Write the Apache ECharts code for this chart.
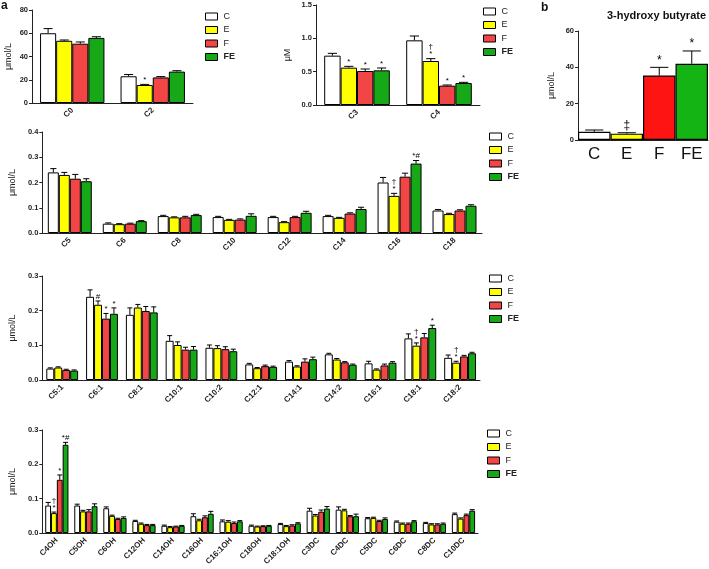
<!DOCTYPE html>
<html>
<head>
<meta charset="utf-8">
<script src="https://cdn.jsdelivr.net/npm/echarts@6/dist/echarts.min.js"></script>
<style>
  html, body { margin: 0; padding: 0; background: #fff; }
  #chart { width: 709px; height: 569px; }
</style>
</head>
<body>
<div id="chart"></div>
<script>
const groups = ['C', 'E', 'F', 'FE'];
const colorsA = ['#ffffff', '#ffff00', '#f24545', '#16a816'];
const colorsB = ['#ffffff', '#ffff00', '#ff1414', '#14b414'];

// panel a, row 1 left
const catsR1a = ['C0', 'C2'];
const meansR1a = [[60, 23], [53.5, 15.5], [51, 22], [56, 27]];
const errsR1a = [[4, 1.5], [0.7, 0.5], [1.5, 0.7], [1, 0.8]];
const marksR1a = [[1, 1, '*']];

// panel a, row 1 right
const catsR1b = ['C3', 'C4'];
const meansR1b = [[0.74, 0.97], [0.56, 0.66], [0.51, 0.29], [0.52, 0.33]];
const errsR1b = [[0.035, 0.065], [0.02, 0.035], [0.03, 0.01], [0.035, 0.01]];
const marksR1b = [[1, 0, '*'], [2, 0, '*'], [3, 0, '*'], [1, 1, '†\n*'], [2, 1, '*'], [3, 1, '*']];

// panel b
const catsB = ['C', 'E', 'F', 'FE'];
const meansB = [4.5, 3.5, 35.5, 42];
const errsB = [1, 0.5, 4.5, 7];
const marksB = ['', '‡', '*', '*'];

// panel a, row 2
const catsR2 = ['C5', 'C6', 'C8', 'C10', 'C12', 'C14', 'C16', 'C18'];
const meansR2 = [
  [0.24, 0.037, 0.067, 0.063, 0.063, 0.067, 0.2, 0.089],
  [0.23, 0.035, 0.062, 0.052, 0.043, 0.06, 0.147, 0.075],
  [0.215, 0.037, 0.062, 0.053, 0.063, 0.077, 0.223, 0.089],
  [0.205, 0.047, 0.071, 0.068, 0.08, 0.095, 0.275, 0.108]
];
const errsR2 = [
  [0.015, 0.003, 0.003, 0.003, 0.003, 0.003, 0.02, 0.004],
  [0.01, 0.002, 0.002, 0.002, 0.002, 0.002, 0.01, 0.003],
  [0.017, 0.002, 0.004, 0.003, 0.003, 0.003, 0.014, 0.003],
  [0.01, 0.002, 0.003, 0.008, 0.006, 0.007, 0.012, 0.004]
];
const marksR2 = [[1, 6, '†\n*'], [3, 6, '*#']];

// panel a, row 3
const catsR3 = ['C5:1', 'C6:1', 'C8:1', 'C10:1', 'C10:2', 'C12:1', 'C14:1', 'C14:2', 'C16:1', 'C18:1', 'C18:2'];
const meansR3 = [
  [0.033, 0.24, 0.188, 0.113, 0.093, 0.045, 0.053, 0.074, 0.048, 0.12, 0.064],
  [0.036, 0.217, 0.209, 0.101, 0.092, 0.034, 0.039, 0.059, 0.03, 0.099, 0.05],
  [0.029, 0.177, 0.199, 0.0875, 0.089, 0.04, 0.053, 0.051, 0.042, 0.123, 0.068],
  [0.027, 0.191, 0.195, 0.0875, 0.083, 0.038, 0.06, 0.044, 0.05, 0.15, 0.077]
];
const errsR3 = [
  [0.002, 0.02, 0.02, 0.015, 0.008, 0.003, 0.003, 0.003, 0.006, 0.013, 0.008],
  [0.002, 0.011, 0.009, 0.009, 0.007, 0.002, 0.002, 0.003, 0.002, 0.008, 0.004],
  [0.002, 0.015, 0.013, 0.007, 0.007, 0.003, 0.008, 0.002, 0.004, 0.011, 0.003],
  [0.002, 0.017, 0.016, 0.009, 0.006, 0.002, 0.006, 0.002, 0.003, 0.008, 0.003]
];
const marksR3 = [[1, 1, '#'], [2, 1, '*'], [3, 1, '*'], [1, 9, '†\n*'], [3, 9, '*'], [1, 10, '†\n*']];

// panel a, row 4
const catsR4 = ['C4OH', 'C5OH', 'C6OH', 'C12OH', 'C14OH', 'C16OH', 'C16:1OH', 'C18OH', 'C18:1OH', 'C3DC', 'C4DC', 'C5DC', 'C6DC', 'C8DC', 'C10DC'];
const meansR4 = [
  [0.08, 0.08, 0.072, 0.035, 0.021, 0.049, 0.034, 0.021, 0.026, 0.065, 0.068, 0.043, 0.033, 0.029, 0.055],
  [0.058, 0.063, 0.05, 0.027, 0.017, 0.037, 0.033, 0.019, 0.02, 0.051, 0.066, 0.044, 0.027, 0.025, 0.042],
  [0.155, 0.063, 0.041, 0.023, 0.019, 0.046, 0.029, 0.02, 0.022, 0.062, 0.049, 0.035, 0.027, 0.025, 0.052],
  [0.257, 0.078, 0.044, 0.023, 0.021, 0.056, 0.034, 0.021, 0.028, 0.071, 0.049, 0.041, 0.034, 0.027, 0.065]
];
const errsR4 = [
  [0.009, 0.004, 0.004, 0.002, 0.002, 0.007, 0.004, 0.002, 0.002, 0.007, 0.008, 0.002, 0.002, 0.002, 0.003],
  [0.003, 0.003, 0.002, 0.002, 0.002, 0.003, 0.003, 0.001, 0.002, 0.003, 0.003, 0.002, 0.002, 0.002, 0.002],
  [0.014, 0.005, 0.002, 0.002, 0.001, 0.004, 0.003, 0.001, 0.002, 0.005, 0.002, 0.002, 0.002, 0.002, 0.003],
  [0.007, 0.007, 0.003, 0.002, 0.001, 0.007, 0.002, 0.001, 0.002, 0.006, 0.006, 0.003, 0.002, 0.002, 0.003]
];
const marksR4 = [[1, 0, '†\n*'], [2, 0, '*'], [3, 0, '*#']];

const FONT = 'Liberation Sans, Arial, sans-serif';

// error bars (upper only) + significance marks, drawn on the axis scale
const makeErr = (means, errs, marks, nG, inner) => {
  const items = [];
  const markOf = {};
  means.forEach((row, g) => row.forEach((v, i) => items.push([i, v, errs[g][i], g])));
  marks.forEach(([g, i, t]) => { markOf[g + '_' + i] = t; });
  const render = (params, api) => {
    const i = api.value(0), m = api.value(1), e = api.value(2), g = api.value(3);
    const p0 = api.coord([i, m]);
    const p1 = api.coord([i, m + e]);
    const gw = api.size([1, 0])[0] * inner;
    const bw = gw / nG;
    const x = p0[0] - gw / 2 + bw * (g + 0.5);
    const cap = Math.max(2.5, bw * 0.28);
    const kids = [
      { type: 'line', shape: { x1: x, y1: p0[1], x2: x, y2: p1[1] }, style: { stroke: '#000', lineWidth: 1 } },
      { type: 'line', shape: { x1: x - cap, y1: p1[1], x2: x + cap, y2: p1[1] }, style: { stroke: '#000', lineWidth: 1 } }
    ];
    const t = markOf[g + '_' + i];
    if (t) {
      kids.push({
        type: 'text',
        x: x, y: p1[1] - 1,
        style: { text: t, align: 'center', verticalAlign: 'bottom', fontSize: nG === 1 ? 12 : 8, lineHeight: nG === 1 ? 12 : 7, fontFamily: FONT, fill: '#000' }
      });
    }
    return { type: 'group', children: kids };
  };
  return { items, render };
};

const panels = [
  { cats: catsR1a, means: meansR1a, errs: errsR1a, marks: marksR1a, grid: { left: 32, top: 10, width: 161, height: 93 }, max: 80, interval: 20, dec: 0, yName: 'μmol/L', nameGap: 19, legend: { left: 205, top: 12 } },
  { cats: catsR1b, means: meansR1b, errs: errsR1b, marks: marksR1b, grid: { left: 316, top: 5, width: 164, height: 100 }, max: 1.5, interval: 0.5, dec: 1, yName: 'μM', nameGap: 24, legend: { left: 483, top: 7 } },
  { cats: catsR2, means: meansR2, errs: errsR2, marks: marksR2, grid: { left: 32, top: 132, width: 450, height: 101 }, max: 0.4, interval: 0.1, dec: 1, yName: 'μmol/L', nameGap: 19, legend: { left: 489, top: 132 } },
  { cats: catsR3, means: meansR3, errs: errsR3, marks: marksR3, grid: { left: 32, top: 276, width: 448, height: 104 }, max: 0.3, interval: 0.1, dec: 1, yName: 'μmol/L', nameGap: 19, legend: { left: 489, top: 274 } },
  { cats: catsR4, means: meansR4, errs: errsR4, marks: marksR4, grid: { left: 32, top: 430, width: 446, height: 103 }, max: 0.3, interval: 0.1, dec: 1, yName: 'μmol/L', nameGap: 19, legend: { left: 487, top: 429 } }
];

const grid = [], xAxis = [], yAxis = [], series = [], legend = [];

const yAxisBase = (idx, max, interval, dec, name, gap) => ({
  type: 'value', gridIndex: idx, min: 0, max: max, interval: interval,
  name: name, nameLocation: 'middle', nameGap: gap, nameRotate: 90,
  nameTextStyle: { fontSize: 9, fontFamily: FONT, color: '#222' },
  axisLine: { show: true, lineStyle: { color: '#222', width: 1 } },
  axisTick: { show: true, length: 3, lineStyle: { color: '#222' } },
  axisLabel: { fontSize: 7.5, fontWeight: 'bold', fontFamily: FONT, color: '#222', margin: 4, formatter: (v) => v.toFixed(dec) },
  splitLine: { show: false }
});

panels.forEach((p, idx) => {
  grid.push(Object.assign({ containLabel: false }, p.grid));
  xAxis.push({
    type: 'category', gridIndex: idx, data: p.cats,
    axisLine: { lineStyle: { color: '#222', width: 1 } },
    axisTick: { alignWithLabel: true, length: 3, lineStyle: { color: '#222' } },
    axisLabel: { rotate: 45, fontSize: 8, fontWeight: 'bold', fontFamily: FONT, color: '#222', margin: 6, interval: 0 }
  });
  yAxis.push(yAxisBase(idx, p.max, p.interval, p.dec, p.yName, p.nameGap));
  groups.forEach((gName, g) => {
    series.push({
      name: gName, type: 'bar', xAxisIndex: idx, yAxisIndex: idx,
      data: p.means[g], barGap: '0%', barCategoryGap: '20%',
      itemStyle: { color: colorsA[g], borderColor: '#000', borderWidth: 1 },
      emphasis: { disabled: true }
    });
  });
  const eb = makeErr(p.means, p.errs, p.marks, 4, 0.8);
  series.push({
    type: 'custom', xAxisIndex: idx, yAxisIndex: idx, data: eb.items,
    renderItem: eb.render, z: 5, silent: true
  });
  legend.push({
    data: groups, orient: 'vertical', left: p.legend.left, top: p.legend.top,
    itemWidth: 12, itemHeight: 7, itemGap: 4.5, icon: 'rect',
    itemStyle: { borderColor: '#000', borderWidth: 1 },
    textStyle: { fontSize: 9, fontFamily: FONT, color: '#222', padding: [0, 0, 0, 1] },
    formatter: (n) => n === 'FE' ? '{b|FE}' : n,
    selectedMode: false, padding: 0
  });
});

// panel b
const bi = panels.length;
grid.push({ left: 578, top: 31, width: 130, height: 109 });
xAxis.push({
  type: 'category', gridIndex: bi, data: catsB,
  axisLine: { lineStyle: { color: '#222', width: 1 } },
  axisTick: { show: false },
  axisLabel: { fontSize: 17, fontFamily: FONT, color: '#111', margin: 6 }
});
yAxis.push(yAxisBase(bi, 60, 20, 0, 'μmol/L', 22));
series.push({
  name: '3-hydroxy butyrate', type: 'bar', xAxisIndex: bi, yAxisIndex: bi,
  barCategoryGap: '0%',
  data: meansB.map((v, i) => ({ value: v, itemStyle: { color: colorsB[i] } })),
  itemStyle: { borderColor: '#000', borderWidth: 1.2 },
  emphasis: { disabled: true }
});
const ebB = makeErr([meansB], [errsB], marksB.map((t, i) => [0, i, t]).filter((m) => m[2]), 1, 1);
series.push({ type: 'custom', xAxisIndex: bi, yAxisIndex: bi, data: ebB.items, renderItem: ebB.render, z: 5, silent: true });

const chart = echarts.init(document.getElementById('chart'), null, { renderer: 'canvas' });
chart.setOption({
  animation: false,
  backgroundColor: '#fff',
  title: [
    { text: 'a', left: 1, top: 0, padding: 0, textStyle: { fontSize: 12, fontWeight: 'bold', fontFamily: FONT, color: '#111' } },
    { text: 'b', left: 541, top: 2, padding: 0, textStyle: { fontSize: 12, fontWeight: 'bold', fontFamily: FONT, color: '#111' } },
    { text: '3-hydroxy butyrate', left: 607, top: 10, padding: 0, textStyle: { fontSize: 11, fontWeight: 'bold', fontFamily: FONT, color: '#111' } }
  ],
  textStyle: { fontFamily: FONT, rich: { b: { fontWeight: 'bold', fontSize: 9 } } },
  legend: legend.map((l) => Object.assign(l, { textStyle: Object.assign(l.textStyle, { rich: { b: { fontWeight: 'bold', fontSize: 9, fontFamily: FONT } } }) })),
  grid: grid,
  xAxis: xAxis,
  yAxis: yAxis,
  series: series
});
window.onresize = () => chart.resize();
</script>
</body>
</html>
